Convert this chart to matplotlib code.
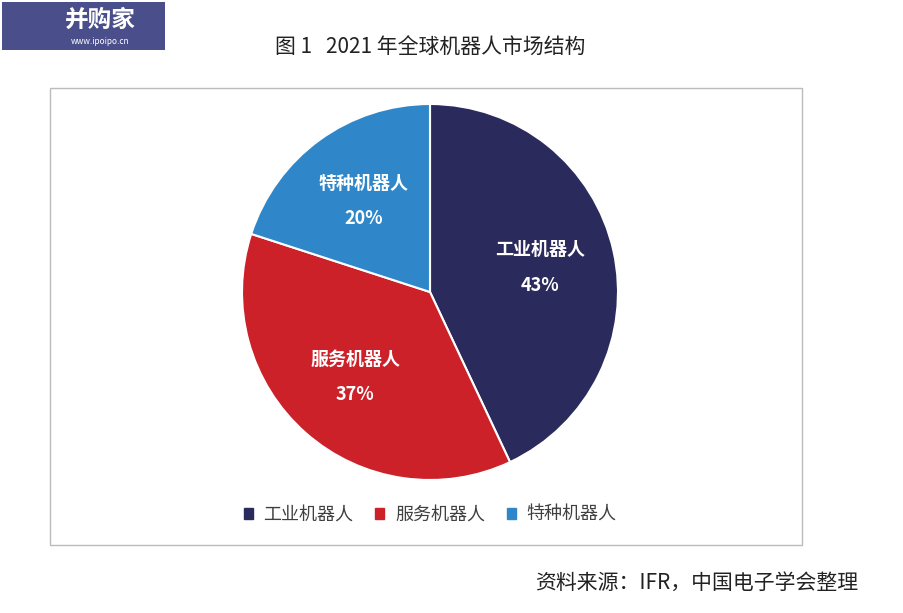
import matplotlib
matplotlib.use("Agg")
import matplotlib.pyplot as plt
from matplotlib.patches import Rectangle
import numpy as np

plt.rcParams['font.family'] = ['Noto Sans CJK SC', 'DejaVu Sans']

categories = ['工业机器人', '服务机器人', '特种机器人']
values = [43, 37, 20]
colors = ['#2b2a5c', '#cc2129', '#2f87c9']

W, H = 904, 613
fig = plt.figure(figsize=(W/100, H/100), dpi=100)

fig.patches.append(Rectangle((50/W, 1-545/H), 752/W, 457/H, transform=fig.transFigure,
                             fill=False, edgecolor='#bbbbbb', lw=1))

R = 188
ax = fig.add_axes([(430-R)/W, 1-(292+R)/H, 2*R/W, 2*R/H])
wedges, _ = ax.pie(values, colors=colors, startangle=90, counterclock=False,
                   wedgeprops=dict(edgecolor='white', linewidth=1.5))
for w, c, v in zip(wedges, categories, values):
    ang = np.deg2rad((w.theta1 + w.theta2) / 2)
    r = 0.6
    ax.text(r*np.cos(ang), r*np.sin(ang), f'{c}\n{v}%', ha='center', va='center',
            color='white', fontsize=13, fontweight='bold', linespacing=2.1)
ax.set_xlim(-1, 1)
ax.set_ylim(-1, 1)
ax.set_aspect('equal')

handles = [Rectangle((0, 0), 1, 1, color=c) for c in colors]
fig.legend(handles, categories, loc='center', bbox_to_anchor=(430/W, 1-515/H), ncol=3,
           frameon=False, fontsize=13, handlelength=0.5, handleheight=0.5,
           columnspacing=1.2, handletextpad=0.6, labelcolor='#404040')

fig.text(430/W, 1-48/H, '图 1   2021 年全球机器人市场结构', ha='center', va='center',
         fontsize=15, color='#222222')
fig.text(858/W, 1-583/H, '资料来源：IFR，中国电子学会整理', ha='right', va='center',
         fontsize=15, color='#222222')

fig.patches.append(Rectangle((2/W, 1-50/H), 163/W, 48/H, transform=fig.transFigure,
                             facecolor='#4a4e8a', edgecolor='none'))
fig.text(100/W, 1-20/H, '并购家', ha='center', va='center', fontsize=17,
         color='white', fontweight='bold')
fig.text(100/W, 1-42/H, 'www.ipoipo.cn', ha='center', va='center', fontsize=6, color='white')

fig.savefig('out.png', dpi=100)
